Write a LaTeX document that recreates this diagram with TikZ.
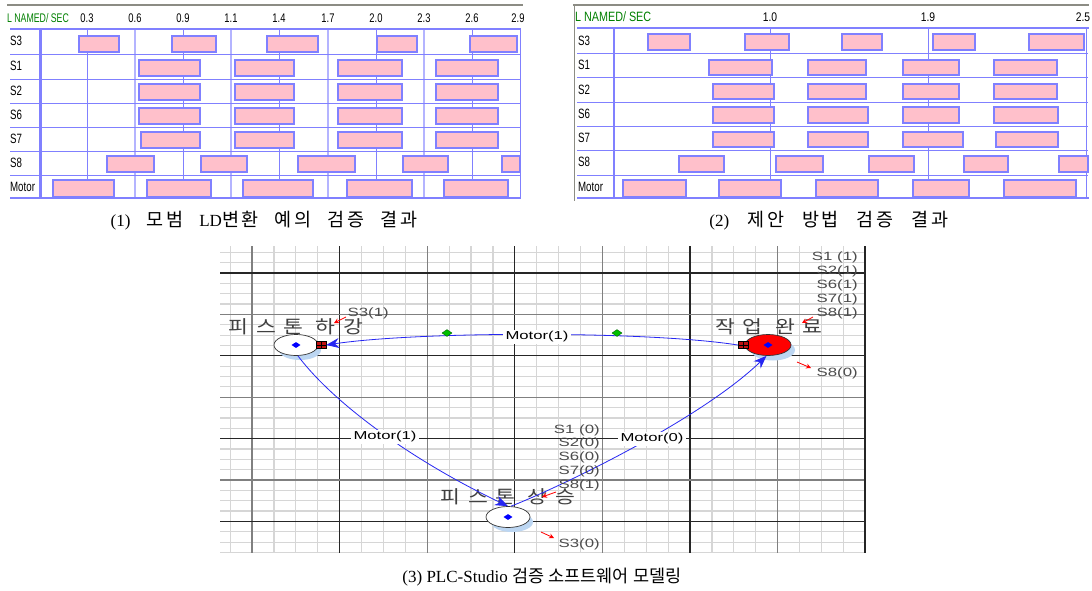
\documentclass[tikz,border=0pt]{standalone}
\usepackage{fontspec}
\setmainfont{Liberation Serif}
\newfontfamily\kr{Noto Sans CJK KR}
\newfontfamily\krw[LetterSpace=15]{Noto Sans CJK KR}
\newfontfamily\krl[LetterSpace=35]{Noto Sans CJK KR}
\newfontfamily\ar{Liberation Sans}
\usetikzlibrary{arrows.meta,shapes.geometric}
\definecolor{gridblue}{HTML}{8080FF}
\definecolor{lightgrid}{HTML}{B4B4FF}
\definecolor{barpink}{HTML}{FFC0CB}
\definecolor{hdrgreen}{HTML}{008000}
\definecolor{framegray}{HTML}{8C8C84}
\definecolor{minorgray}{HTML}{D6D6D6}
\definecolor{shadowblue}{HTML}{BCD6F2}
\definecolor{edgeblue}{HTML}{2626F2}
\definecolor{sqred}{HTML}{C01010}
\newcommand{\wg}{\hspace{16pt}}
\newcommand{\Kw}[1]{{\krw\fontsize{18.5}{20}\selectfont #1}}
\newcommand{\Kn}[1]{{\kr\fontsize{17.5}{20}\selectfont #1}}
\tikzset{
  bar/.style={draw=gridblue, fill=barpink, line width=1.1pt},
  thinrow/.style={draw=gridblue, line width=0.9pt},
  thickrow/.style={draw=gridblue, line width=2.2pt},
  vminor/.style={draw=gridblue, line width=0.8pt},
  vmajor/.style={draw=lightgrid, line width=1.6pt},
  rowlab/.style={anchor=west, font=\ar\fontsize{13.5}{14}\selectfont, xscale=0.72, inner sep=0},
  hdrnum/.style={font=\ar\fontsize{12.5}{14}\selectfont, xscale=0.75, inner sep=0},
  hdrtxt/.style={anchor=west, text=hdrgreen, font=\ar\fontsize{12.5}{14}\selectfont, xscale=0.7, inner sep=0},
  caption/.style={font=\fontsize{17}{19}\selectfont, inner sep=0},
  minorline/.style={draw=minorgray, line width=1.2pt},
  majgray/.style={draw=black!50, line width=1.3pt},
  majblack/.style={draw=black!85, line width=1.3pt},
  stateshape/.style={ellipse, draw=black!80, line width=0.7pt, fill=white, minimum width=44pt, minimum height=21pt, inner sep=0},
  centerdot/.style={diamond, fill=blue, minimum width=9pt, minimum height=6pt, inner sep=0},
  portsq/.style={draw=black, fill=sqred, minimum width=10pt, minimum height=7pt, inner sep=0,
     path picture={\draw[black, line width=0.5pt] (path picture bounding box.west) -- (path picture bounding box.east) (path picture bounding box.north) -- (path picture bounding box.south);}},
  marker/.style={diamond, draw=green!40!black, fill=green!75!black, minimum width=10pt, minimum height=7pt, inner sep=0},
  trans/.style={draw=edgeblue, line width=0.8pt, -{Stealth[length=13pt,width=10pt]}},
  elab/.style={fill=white, inner sep=2pt, font=\ar\fontsize{11.5}{12}\selectfont, xscale=1.45},
  slab/.style={anchor=east, text=black!70, font=\ar\fontsize{12}{13}\selectfont, xscale=1.4, inner sep=0},
  statelab/.style={text=black!75, font=\krl\fontsize{18}{20}\selectfont, xscale=1.2, inner sep=0},
  redmark/.style={draw=red, line width=0.8pt, -{Stealth[length=5pt,width=5pt]}}
}
\begin{document}
\begin{tikzpicture}[x=1pt,y=-1pt]
\useasboundingbox (0,0) rectangle (1092,590);
\fill[white] (0,0) rectangle (1092,590);

% ================= Panel 1 =================
\draw[framegray, line width=1.6pt] (7,5) -- (523,5);
\node[hdrtxt] (h1) at (7,18) {L NAMED/ SEC};
\foreach \x/\t in {87/0.3,135/0.6,183/0.9,231/1.1,279/1.4,328/1.7,376/2.0,424/2.3,472/2.6,518/2.9}
  \node[hdrnum] at (\x,18) {\t};
\foreach \x in {87,183,279,376,472} \draw[vminor] (\x,29) -- (\x,198);
\foreach \x in {135,231,328,424} \draw[vmajor] (\x,29) -- (\x,198);
\foreach \y in {54,79,103,127,151,175} \draw[thinrow] (10,\y) -- (520,\y);
\draw[vminor] (520,29) -- (520,198);
\foreach \t/\y in {S3/41,S1/66,S2/91,S6/115,S7/139,S8/163,Motor/187}
  \node[rowlab] at (10,\y) {\t};
% bars
\foreach \a/\b in {79/119,172/216,267/318,377/417,470/517} \draw[bar] (\a,36) rectangle (\b,52);
\foreach \a/\b in {139/200,235/294,338/402,436/498} \draw[bar] (\a,60) rectangle (\b,76);
\foreach \a/\b in {139/200,235/294,338/402,436/498} \draw[bar] (\a,84) rectangle (\b,100);
\foreach \a/\b in {139/200,235/294,338/402,436/498} \draw[bar] (\a,108) rectangle (\b,124);
\foreach \a/\b in {141/200,235/294,338/402,436/498} \draw[bar] (\a,132) rectangle (\b,148);
\foreach \a/\b in {107/154,201/247,298/355,403/448,502/520} \draw[bar] (\a,156) rectangle (\b,172);
\foreach \a/\b in {53/114,147/211,243/313,347/412,444/508} \draw[bar] (\a,180) rectangle (\b,197);
\draw[thickrow] (10,29) -- (521,29);
\draw[thickrow] (10,198) -- (521,198);
\draw[thickrow] (40.5,29) -- (40.5,198);
\node[caption] (cap1) at (264,221) {(1)\wg\Kw{모범}\wg LD\Kw{변환}\wg\Kw{예의}\wg\Kw{검증}\wg\Kw{결과}};

% ================= Panel 2 =================
\draw[framegray, line width=1.6pt] (573,5) -- (1089,5);
\draw[framegray, line width=1pt] (574,5) -- (574,201);
\node[hdrtxt, font=\ar\fontsize{13.5}{14}\selectfont, xscale=1.14] (h2) at (575,17) {L NAMED/ SEC};
\foreach \x/\t in {770/1.0,928/1.9,1083/2.5}
  \node[hdrnum, xscale=1.1] at (\x,17) {\t};
\foreach \x in {770,928,1086} \draw[vminor] (\x,28) -- (\x,198);
\foreach \y in {53,77,102,126,150,175} \draw[thinrow] (577,\y) -- (1088,\y);
\foreach \t/\y in {S3/41,S1/65,S2/90,S6/114,S7/138,S8/162,Motor/187}
  \node[rowlab] at (578,\y) {\t};
\foreach \a/\b in {648/690,745/789,842/882,933/975,1029/1084} \draw[bar] (\a,34) rectangle (\b,50);
\foreach \a/\b in {709/772,808/866,903/959,994/1057} \draw[bar] (\a,60) rectangle (\b,75);
\foreach \a/\b in {713/774,808/866,903/959,994/1057} \draw[bar] (\a,84) rectangle (\b,99);
\foreach \a/\b in {713/774,808/868,903/959,994/1058} \draw[bar] (\a,107) rectangle (\b,123);
\foreach \a/\b in {713/774,808/868,903/963,996/1058} \draw[bar] (\a,132) rectangle (\b,147);
\foreach \a/\b in {679/724,776/823,869/914,964/1008,1059/1088} \draw[bar] (\a,156) rectangle (\b,172);
\foreach \a/\b in {623/686,719/781,816/878,913/969,1004/1076} \draw[bar] (\a,180) rectangle (\b,197);
\draw[thickrow] (577,28) -- (1089,28);
\draw[thickrow] (577,198) -- (1089,198);
\draw[thickrow] (614,28) -- (614,198);
\node[caption] (cap2) at (829,221) {(2)\hspace{18pt}\Kw{제안}\hspace{18pt}\Kw{방법}\hspace{18pt}\Kw{검증}\hspace{18pt}\Kw{결과}};

% ================= Panel 3 =================
\begin{scope}
\clip (220,246) rectangle (866,553);
\foreach \i in {-2,...,28} \draw[minorline] ({252+21.9*\i},246) -- ++(0,307);
\foreach \j in {-3,...,27} \draw[minorline] (220,{273+10.35*\j}) -- ++(646,0);
\foreach \i in {0,2,4,6} \draw[majgray] ({252+87.6*\i},246) -- ++(0,307);
\foreach \i in {1,3,5} \draw[majblack] ({252+87.6*\i},246) -- ++(0,307);
\foreach \j in {0,2,4,6} \draw[majblack] (220,{273+41.4*\j}) -- ++(646,0);
\foreach \j in {1,3,5} \draw[majgray] (220,{273+41.4*\j}) -- ++(646,0);
\end{scope}
\draw[majblack] (865,246) -- (865,553);

% shadows
\fill[shadowblue] (300,350) ellipse (21 and 10);
\fill[shadowblue] (773,350) ellipse (22 and 10.5);
\fill[shadowblue] (512,522) ellipse (21 and 10);
% states
\node[stateshape] (pd) at (296,345) {};
\node[stateshape, fill=red, minimum width=46pt] (wc) at (768,345) {};
\node[stateshape] (pu) at (508,517) {};
\node[centerdot] (pdc) at (pd.center) {};
\node[centerdot] (wcc) at (wc.center) {};
\node[centerdot] (puc) at (pu.center) {};
\node[portsq] (sqpd) at (321,345) {};
\node[portsq] (sqwc) at (743,345) {};

% labels
\node[statelab] (pdl) at (296,327) {피스톤 하강};
\node[statelab] (wcl) at (769,327) {작업 완료};
\node[statelab] (pul) at (508,497) {피스톤 상승};

% transitions
\draw[trans] (sqwc.west) .. controls (650,331) and (420,331) .. (sqpd.east);
\draw[trans] (pd.-80) .. controls (335,405) and (415,462) .. (pu.north);
\draw[trans] (pu.75) .. controls (560,487) and (700,420) .. (wc.-98);
\node[marker] (m1) at (447,333) {};
\node[marker] (m2) at (617,333) {};
\node[elab] (e1) at (537,337) {Motor(1)};
\node[elab] (e2) at (385,437) {Motor(1)};
\node[elab] (e3) at (652,439) {Motor(0)};

% signal labels
\node[slab] (s31) at (389,313) {S3(1)};
\foreach \t/\y in {S1 (1)/257,S2(1)/271,S6(1)/285,S7(1)/299,S8(1)/313}
  \node[slab] at (858,\y) {\t};
\node[slab] (s80) at (858,373) {S8(0)};
\foreach \t/\y in {S1 (0)/430,S2(0)/443,S6(0)/457,S7(0)/471,S8(1)/485}
  \node[slab] at (600,\y) {\t};
\node[slab] (s30) at (600,544) {S3(0)};

% red markers
\coordinate (r1a) at (346,317); \coordinate (r1b) at (334,323);
\coordinate (r2a) at (813,317); \coordinate (r2b) at (802,323);
\coordinate (r3a) at (797,362); \coordinate (r3b) at (811,368);
\coordinate (r4a) at (556,492); \coordinate (r4b) at (542,497);
\coordinate (r5a) at (541,532); \coordinate (r5b) at (554,538);
\draw[redmark] (r1a) -- (r1b);
\draw[redmark] (r2a) -- (r2b);
\draw[redmark] (r3a) -- (r3b);
\draw[redmark] (r4a) -- (r4b);
\draw[redmark] (r5a) -- (r5b);

\node[caption] (cap3) at (542,577) {(3) PLC-Studio \Kn{검증}\ \Kn{소프트웨어}\ \Kn{모델링}};
\end{tikzpicture}
\end{document}
